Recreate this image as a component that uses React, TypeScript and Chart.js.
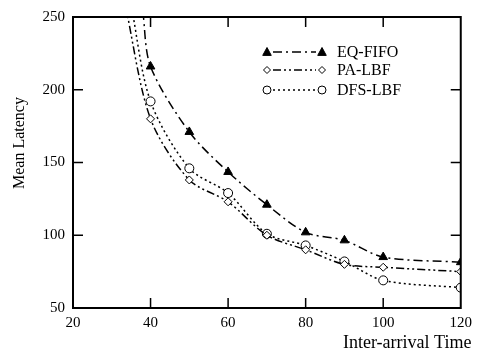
import React, { useEffect, useRef } from "react";
import { Chart, registerables } from "chart.js";
Chart.register(...registerables);

const xTicks = [20, 40, 60, 80, 100, 120];
const yTicks = [50, 100, 150, 200, 250];
const seriesNames = ["EQ-FIFO", "PA-LBF", "DFS-LBF"];
const xTitle = "Inter-arrival Time";
const yTitle = "Mean Latency";
const eqX = [38, 40, 50, 60, 70, 80, 90, 100, 120];
const eqY = [254, 216, 171, 143.5, 121, 102, 96.5, 85, 81.5];
const paX = [33.5, 40, 50, 60, 70, 80, 90, 100, 120];
const paY = [258, 180, 138, 123, 100, 90, 80, 78, 75];
const dfsX = [35, 40, 50, 60, 70, 80, 90, 100, 120];
const dfsY = [258, 192, 146, 129, 101, 93, 82, 69, 64];

const FONT = "'Liberation Serif', 'Times New Roman', serif";
const dashes = [[9, 4, 2, 4], [8, 3, 2, 3, 2, 3], [2, 3]];
const styles = ["triangle", "rectRot", "circle"];
const radii = [5, 4, 4.5];
const fills = ["#000", "#fff", "#fff"];

function drawMarker(ctx: CanvasRenderingContext2D, kind: string, x: number, y: number, r: number) {
  ctx.save();
  ctx.setLineDash([]);
  ctx.lineWidth = 1;
  ctx.strokeStyle = "#000";
  ctx.beginPath();
  if (kind === "triangle") {
    ctx.moveTo(x, y - r);
    ctx.lineTo(x + r * 0.95, y + r * 0.75);
    ctx.lineTo(x - r * 0.95, y + r * 0.75);
    ctx.closePath();
    ctx.fillStyle = "#000";
    ctx.fill();
  } else if (kind === "rectRot") {
    ctx.moveTo(x, y - r);
    ctx.lineTo(x + r, y);
    ctx.lineTo(x, y + r);
    ctx.lineTo(x - r, y);
    ctx.closePath();
    ctx.fillStyle = "#fff";
    ctx.fill();
  } else {
    ctx.arc(x, y, r, 0, Math.PI * 2);
    ctx.fillStyle = "#fff";
    ctx.fill();
  }
  ctx.stroke();
  ctx.restore();
}

const framePlugin = {
  id: "frame",
  afterDraw(chart: any) {
    const { ctx, chartArea } = chart;
    const { left, right, top, bottom } = chartArea;
    const xs = chart.scales.x;
    const ys = chart.scales.y;
    ctx.save();
    ctx.strokeStyle = "#000";
    ctx.lineWidth = 2;
    ctx.setLineDash([]);
    ctx.strokeRect(left, top, right - left, bottom - top);
    ctx.lineWidth = 1.5;
    const L = 10;
    xTicks.slice(1, -1).forEach((v) => {
      const px = xs.getPixelForValue(v);
      ctx.beginPath();
      ctx.moveTo(px, bottom);
      ctx.lineTo(px, bottom - L);
      ctx.moveTo(px, top);
      ctx.lineTo(px, top + L);
      ctx.stroke();
    });
    yTicks.slice(1, -1).forEach((v) => {
      const py = ys.getPixelForValue(v);
      ctx.beginPath();
      ctx.moveTo(left, py);
      ctx.lineTo(left + L, py);
      ctx.moveTo(right, py);
      ctx.lineTo(right - L, py);
      ctx.stroke();
    });
    // axis titles
    ctx.fillStyle = "#000";
    ctx.font = "18px " + FONT;
    ctx.textBaseline = "middle";
    ctx.textAlign = "left";
    ctx.fillText(xTitle, 343, 343);
    ctx.save();
    ctx.translate(20, 143);
    ctx.rotate(-Math.PI / 2);
    ctx.font = "16px " + FONT;
    ctx.textAlign = "center";
    ctx.fillText(yTitle, 0, 0);
    ctx.restore();
    // legend
    const rowsY = [52, 70, 90];
    const x1 = 267;
    const x2 = 322;
    const tx = 337;
    ctx.font = "16px " + FONT;
    ctx.textBaseline = "middle";
    ctx.textAlign = "left";
    seriesNames.forEach((name, i) => {
      const y = rowsY[i];
      ctx.save();
      ctx.lineWidth = 1.5;
      ctx.setLineDash(dashes[i]);
      ctx.beginPath();
      ctx.moveTo(x1 + 6, y);
      ctx.lineTo(x2 - 6, y);
      ctx.stroke();
      ctx.restore();
      drawMarker(ctx, styles[i], x1, y, radii[i] - 0.5);
      drawMarker(ctx, styles[i], x2, y, radii[i] - 0.5);
      ctx.fillText(name, tx, y + 1);
    });
    ctx.restore();
  },
};

function makeDataset(i: number, xs: number[], ys: number[]) {
  return {
    label: seriesNames[i],
    data: xs.map((x, k) => ({ x, y: ys[k] })),
    borderColor: "#000",
    borderWidth: 1.5,
    borderDash: dashes[i],
    backgroundColor: fills[i],
    pointBackgroundColor: fills[i],
    pointBorderColor: "#000",
    pointBorderWidth: 1,
    pointStyle: styles[i],
    pointRadius: xs.map((_, k) => (k === 0 ? 0 : radii[i])),
    tension: 0.3,
    fill: false,
    clip: 0,
  };
}

export default function App() {
  const ref = useRef<HTMLCanvasElement | null>(null);
  useEffect(() => {
    if (!ref.current) return;
    const chart = new Chart(ref.current, {
      type: "line",
      data: {
        datasets: [
          makeDataset(0, eqX, eqY),
          makeDataset(1, paX, paY),
          makeDataset(2, dfsX, dfsY),
        ] as any,
      },
      options: {
        responsive: false,
        animation: false,
        layout: { padding: { top: 15, right: 16, left: 0, bottom: 0 } },
        plugins: { legend: { display: false }, tooltip: { enabled: false } },
        scales: {
          x: {
            type: "linear",
            min: 20,
            max: 120,
            afterBuildTicks: (s: any) => {
              s.ticks = xTicks.map((v) => ({ value: v }));
            },
            afterFit: (s: any) => {
              s.height = 47;
            },
            ticks: { color: "#000", font: { family: FONT, size: 15 }, padding: 6, maxRotation: 0 },
            grid: { display: false, drawTicks: false },
            border: { display: false },
          },
          y: {
            type: "linear",
            min: 50,
            max: 250,
            afterBuildTicks: (s: any) => {
              s.ticks = yTicks.map((v) => ({ value: v }));
            },
            afterFit: (s: any) => {
              s.width = 73;
            },
            ticks: { color: "#000", font: { family: FONT, size: 15 }, padding: 8 },
            grid: { display: false, drawTicks: false },
            border: { display: false },
          },
        },
      } as any,
      plugins: [framePlugin],
    });
    return () => chart.destroy();
  }, []);
  return (
    <div style={{ position: "absolute", left: 0, top: 0, width: 478, height: 355, background: "#fff" }}>
      <canvas ref={ref} width={478} height={355} style={{ display: "block" }} />
    </div>
  );
}
